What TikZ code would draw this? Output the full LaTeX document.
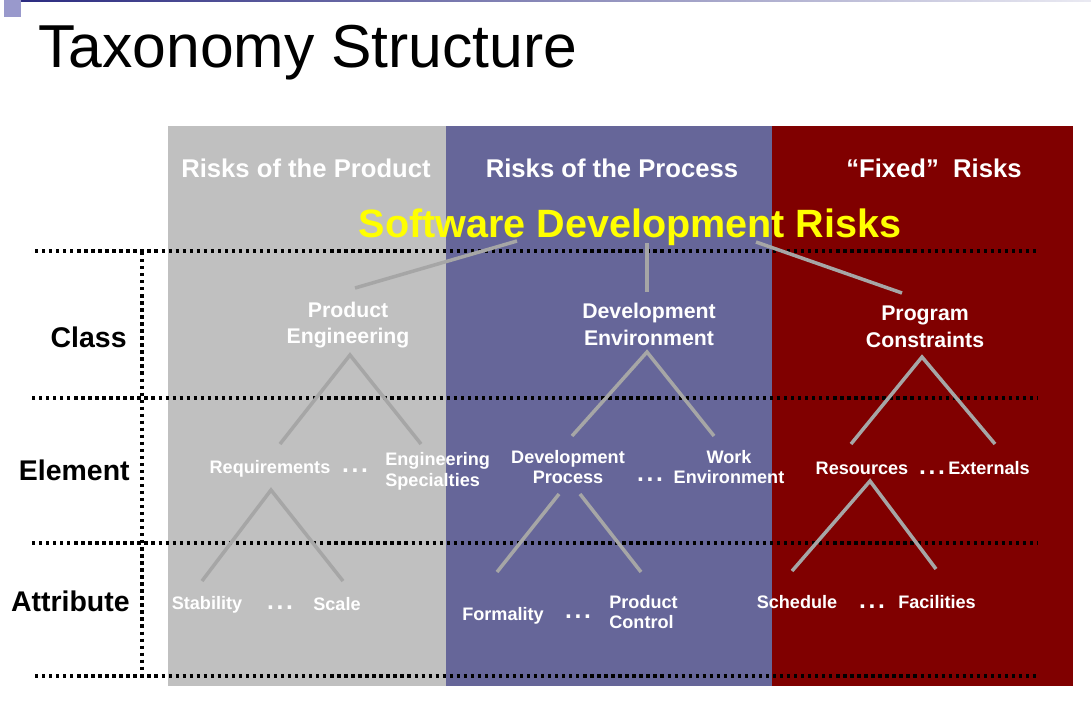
\documentclass[tikz,border=0pt]{standalone}
\usepackage{fontspec}
\setmainfont{Liberation Sans}
\usetikzlibrary{positioning}
\definecolor{productbg}{HTML}{C0C0C0}
\definecolor{processbg}{HTML}{666699}
\definecolor{fixedbg}{HTML}{800000}
\definecolor{branch}{HTML}{A6A6A6}
\definecolor{topbar}{HTML}{2B2B80}
\definecolor{corner}{HTML}{9999CC}
\definecolor{riskyellow}{HTML}{FFFF00}

\tikzset{
  header/.style={text=white, font=\fontsize{14.6}{18}\selectfont\bfseries, inner sep=0pt, anchor=base},
  levellabel/.style={text=black, font=\fontsize{16.2}{19}\selectfont\bfseries, inner sep=0pt, anchor=base east},
  classbox/.style={text=white, font=\fontsize{12.1}{15.3}\selectfont\bfseries, align=center, inner sep=0pt},
  itembox/.style={text=white, font=\fontsize{10.3}{11.9}\selectfont\bfseries, align=center, inner sep=0pt},
  moredots/.style={text=white, font=\fontsize{14}{16}\selectfont\bfseries, inner sep=0pt},
  branchline/.style={draw=branch, line width=2pt},
  dotline/.style={line width=1.9pt, dash pattern=on 1.9pt off 2.1pt},
}

\begin{document}
\begin{tikzpicture}[x=0.02cm, y=-0.02cm]
    \useasboundingbox (0,0) rectangle (1091,704);

    % Slide decoration and title
    \shade[left color=topbar, right color=topbar!10] (17,0) rectangle (1091,1.5);
    \fill[corner] (4,0) rectangle (21,17);
    \node[anchor=base west, inner sep=0pt, font=\fontsize{34.5}{40}\selectfont] (title) at (38,67) {Taxonomy Structure};

    % Three risk panels
    \fill[productbg] (168,126) rectangle (446,686);
    \fill[processbg] (446,126) rectangle (772,686);
    \fill[fixedbg] (772,126) rectangle (1073,686);

    \node[header] (hproduct) at (306,177) {Risks of the Product};
    \node[header] (hprocess) at (612,177) {Risks of the Process};
    \node[header] (hfixed) at (934,177) {``Fixed''\ \ Risks};

    % Level separators
    \draw[dotline] (35,251) -- (1037,251);
    \draw[dotline] (32,398) -- (1037,398);
    \draw[dotline] (32,543) -- (1037,543);
    \draw[dotline] (35,676) -- (1037,676);
    \draw[dotline] (142,252) -- (142,672);

    \node[levellabel] (lclass) at (127,347) {Class};
    \node[levellabel] (lelement) at (130,480) {Element};
    \node[levellabel] (lattribute) at (130,611) {Attribute};

    % Root
    \node[anchor=base, inner sep=0pt, text=riskyellow, font=\fontsize{22.5}{27}\selectfont\bfseries] (sdr) at (630,237) {Software Development Risks};

    % Classes
    \node[classbox] (pe) at (348,325) {Product\\Engineering};
    \node[classbox] (de) at (649,324) {Development\\Environment};
    \node[classbox] (pc) at (925,327) {Program\\Constraints};

    % Elements
    \node[itembox, anchor=base] (req) at (270,473) {Requirements};
    \node[moredots] (dots1) at (355,471) {.\kern1.5pt.\kern1.5pt.};
    \node[itembox, align=left, anchor=west] (es) at (385,471) {Engineering\\Specialties};
    \node[itembox] (dp) at (568,467) {Development\\Process};
    \node[moredots] (dots2) at (650,480) {.\kern1.5pt.\kern1.5pt.};
    \node[itembox] (we) at (729,467) {Work\\Environment};
    \node[itembox, anchor=base] (res) at (862,474) {Resources};
    \node[moredots] (dots3) at (932,473) {.\kern1.5pt.\kern1.5pt.};
    \node[itembox, anchor=base] (ext) at (989,474) {Externals};

    % Attributes
    \node[itembox, anchor=base] (stab) at (207,609) {Stability};
    \node[moredots] (dots4) at (280,608) {.\kern1.5pt.\kern1.5pt.};
    \node[itembox, anchor=base] (scale) at (337,610) {Scale};
    \node[itembox, anchor=base] (form) at (503,620) {Formality};
    \node[moredots] (dots5) at (578,617) {.\kern1.5pt.\kern1.5pt.};
    \node[itembox, align=left, anchor=west] (pctrl) at (609,612) {Product\\Control};
    \node[itembox, anchor=base] (sched) at (797,608) {Schedule};
    \node[moredots] (dots6) at (872,607) {.\kern1.5pt.\kern1.5pt.};
    \node[itembox, anchor=base] (fac) at (937,608) {Facilities};

    % Branch ends
    \coordinate (sdr-l) at (517,241);
    \coordinate (sdr-m) at (647,243);
    \coordinate (sdr-r) at (756,242);
    \coordinate (pe-in) at (355,288);
    \coordinate (de-in) at (647,292);
    \coordinate (pc-in) at (902,293);
    \coordinate (pe-out) at (350,355);
    \coordinate (de-out) at (647,352);
    \coordinate (pc-out) at (922,357);
    \coordinate (req-in) at (280,444);
    \coordinate (es-in) at (421,444);
    \coordinate (dp-in) at (572,436);
    \coordinate (we-in) at (714,436);
    \coordinate (res-in) at (851,444);
    \coordinate (ext-in) at (995,444);
    \coordinate (req-out) at (271,490);
    \coordinate (dp-outl) at (559,494);
    \coordinate (dp-outr) at (580,494);
    \coordinate (res-out) at (870,481);
    \coordinate (stab-in) at (202,581);
    \coordinate (scale-in) at (343,581);
    \coordinate (form-in) at (497,572);
    \coordinate (pctrl-in) at (641,572);
    \coordinate (sched-in) at (792,571);
    \coordinate (fac-in) at (936,569);

    % Tree branches
    \draw[branchline] (sdr-l) -- (pe-in);
    \draw[branchline] (sdr-m) -- (de-in);
    \draw[branchline] (sdr-r) -- (pc-in);
    \draw[branchline] (req-in) -- (pe-out) -- (es-in);
    \draw[branchline] (dp-in) -- (de-out) -- (we-in);
    \draw[branchline] (res-in) -- (pc-out) -- (ext-in);
    \draw[branchline] (stab-in) -- (req-out) -- (scale-in);
    \draw[branchline] (dp-outl) -- (form-in);
    \draw[branchline] (dp-outr) -- (pctrl-in);
    \draw[branchline] (sched-in) -- (res-out) -- (fac-in);
\end{tikzpicture}
\end{document}
